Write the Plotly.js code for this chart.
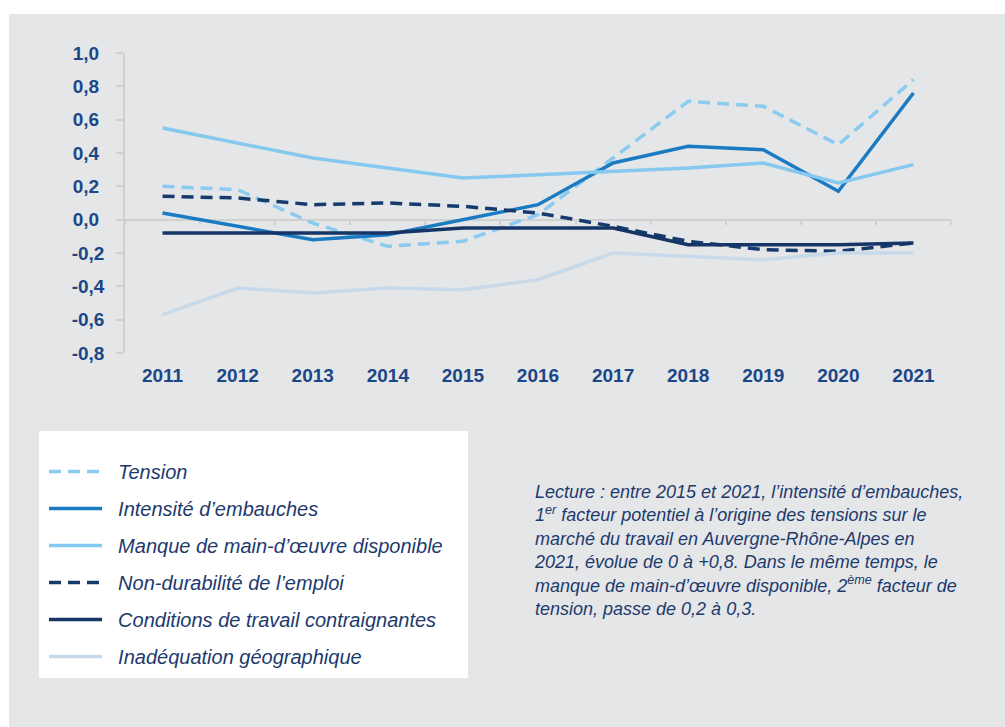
<!DOCTYPE html>
<html>
<head>
<meta charset="utf-8">
<script src="https://cdn.plot.ly/plotly-3.0.1.min.js"></script>
<style>
  html, body { margin: 0; padding: 0; background: #ffffff; }
  #chart { position: absolute; left: 9px; top: 14px; width: 996px; height: 713px; }
</style>
</head>
<body>
<div id="chart"></div>
<script>
// ---- Data ----
const years = ['2011','2012','2013','2014','2015','2016','2017','2018','2019','2020','2021'];
const seriesNames = [
  'Tension',
  'Intensité d’embauches',
  'Manque de main-d’œuvre disponible',
  'Non-durabilité de l’emploi',
  'Conditions de travail contraignantes',
  'Inadéquation géographique'
];
const tension       = [0.20, 0.18, -0.02, -0.16, -0.13, 0.03, 0.37, 0.71, 0.68, 0.45, 0.84];
const intensite     = [0.04, -0.04, -0.12, -0.09, 0.00, 0.09, 0.34, 0.44, 0.42, 0.17, 0.76];
const manque        = [0.55, 0.46, 0.37, 0.31, 0.25, 0.27, 0.29, 0.31, 0.34, 0.22, 0.33];
const nonDurabilite = [0.14, 0.13, 0.09, 0.10, 0.08, 0.04, -0.04, -0.13, -0.18, -0.19, -0.14];
const conditions    = [-0.08, -0.08, -0.08, -0.08, -0.05, -0.05, -0.05, -0.15, -0.15, -0.15, -0.14];
const inadequation  = [-0.57, -0.41, -0.44, -0.41, -0.42, -0.36, -0.20, -0.22, -0.24, -0.20, -0.20];
const yTickVals = [-0.8, -0.6, -0.4, -0.2, 0.0, 0.2, 0.4, 0.6, 0.8, 1.0];
const yTickText = ['-0,8', '-0,6', '-0,4', '-0,2', '0,0\u00a0', '0,2\u00a0', '0,4\u00a0', '0,6\u00a0', '0,8\u00a0', '1,0\u00a0'];
const noteText = 'Lecture : entre 2015 et 2021, l’intensité d’embauches,<br>' +
  '1<sup>er</sup> facteur potentiel à l’origine des tensions sur le<br>' +
  'marché du travail en Auvergne-Rhône-Alpes en<br>' +
  '2021, évolue de 0 à +0,8. Dans le même temps, le<br>' +
  'manque de main-d’œuvre disponible, 2<sup>ème</sup> facteur de<br>' +
  'tension, passe de 0,2 à 0,3.';

// ---- Styles ----
const FONT = 'Arial, "Liberation Sans", sans-serif';
const BLUE_TXT = '#1a4787';
const NAVY_TXT = '#1d3a6d';
const BG = '#e5e6e8';
const styles = [
  {color: '#8acbef', dash: '12px,7px'},
  {color: '#1b7bc2', dash: 'solid'},
  {color: '#85c9f0', dash: 'solid'},
  {color: '#173a6d', dash: '12px,7px'},
  {color: '#143566', dash: 'solid'},
  {color: '#c8daea', dash: 'solid'}
];
const values = [tension, intensite, manque, nonDurabilite, conditions, inadequation];

const data = values.map((v, i) => ({
  type: 'scatter', mode: 'lines', x: years, y: v,
  name: '\u00a0\u00a0' + seriesNames[i], legendgroup: 'g' + i,
  line: {color: styles[i].color, width: 3.5, dash: styles[i].dash},
  hoverinfo: 'skip'
}));
// invisible helper trace that builds the category axis drawn at y = 0
data.push({
  type: 'scatter', mode: 'lines', x: years, y: tension, xaxis: 'x2', yaxis: 'y',
  line: {width: 0, color: 'rgba(0,0,0,0)'}, showlegend: false, hoverinfo: 'skip'
});

const layout = {
  width: 996, height: 713,
  paper_bgcolor: BG, plot_bgcolor: 'rgba(0,0,0,0)',
  margin: {l: 116, r: 54, t: 39, b: 374},
  showlegend: true,
  xaxis: {
    type: 'category', range: [-0.5, 10.5], showline: false, showgrid: false, zeroline: false,
    ticks: '', ticklabelstandoff: 9,
    tickfont: {family: FONT, size: 19, color: BLUE_TXT, weight: 'bold'}
  },
  xaxis2: {
    type: 'category', overlaying: 'x', anchor: 'free', position: 0.8 / 1.8, side: 'bottom',
    range: [-0.5, 10.5], showline: true, linecolor: '#cfd0d2', linewidth: 1.5,
    ticks: 'outside', tickson: 'boundaries', ticklen: 5, tickcolor: '#cfd0d2', tickwidth: 1.5,
    showticklabels: false, showgrid: false, zeroline: false, layer: 'below traces'
  },
  yaxis: {
    range: [-0.8, 1.0], tickvals: yTickVals, ticktext: yTickText,
    showline: true, linecolor: '#cfd0d2', linewidth: 1.5, ticks: 'outside', ticklen: 7,
    tickcolor: '#cfd0d2', tickwidth: 1.5, showgrid: false, zeroline: false,
    ticklabelstandoff: 8, layer: 'below traces',
    tickfont: {family: FONT, size: 19, color: BLUE_TXT, weight: 'bold'}
  },
  legend: {
    x: (44 - 125) / 826, y: (353 - 452) / 300, xanchor: 'left', yanchor: 'top',
    bgcolor: 'rgba(0,0,0,0)', borderwidth: 0, itemwidth: 53, itemclick: false, itemdoubleclick: false,
    traceorder: 'grouped', tracegroupgap: 8,
    font: {family: FONT, size: 20, color: NAVY_TXT, style: 'italic'}
  },
  shapes: [{
    type: 'rect', xref: 'paper', yref: 'paper', layer: 'below',
    x0: (39 - 125) / 826, x1: (468 - 125) / 826, y0: (353 - 678) / 300, y1: (353 - 431) / 300,
    fillcolor: '#ffffff', line: {width: 0}
  }],
  annotations: [{
    xref: 'paper', yref: 'paper', x: (532 - 125) / 826, y: (353 - 480) / 300,
    xanchor: 'left', yanchor: 'top', align: 'left', showarrow: false,
    text: noteText,
    font: {family: FONT, size: 18, color: NAVY_TXT, style: 'italic'}
  }]
};

Plotly.newPlot('chart', data, layout, {displayModeBar: false, responsive: false});
</script>
</body>
</html>
